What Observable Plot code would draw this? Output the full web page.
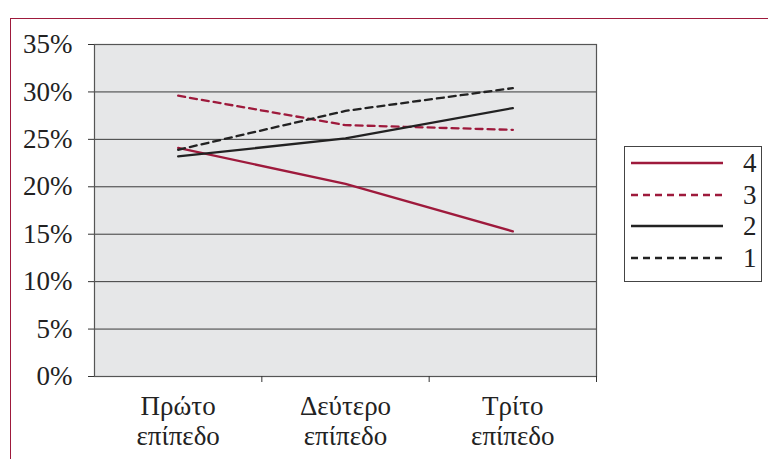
<!DOCTYPE html>
<html>
<head>
<meta charset="utf-8">
<script src="https://cdn.jsdelivr.net/npm/d3@7"></script>
<script src="https://cdn.jsdelivr.net/npm/@observablehq/plot@0.6"></script>
<style>
  body { margin: 0; background: #fff; }
  #wrap { position: relative; width: 768px; height: 459px; overflow: hidden; font-family: "Liberation Serif", serif; }
  #border { position: absolute; left: 10px; top: 18px; width: 780px; height: 480px; border: 1.5px solid #9e1a3c; box-sizing: border-box; pointer-events: none; }
  #legend { position: absolute; left: 624px; top: 146px; width: 138px; height: 136px; border: 1px solid #444; box-sizing: border-box; background: #fff; }
  .row { position: absolute; left: 6px; height: 30px; width: 130px; }
  .row svg { position: absolute; left: 0; top: 0; }
  .row span { position: absolute; left: 112px; top: 0; font-size: 27px; line-height: 30px; color: #222; }
</style>
</head>
<body>
<div id="wrap">
  <div id="chart"></div>
  <div id="border"></div>
  <div id="legend"></div>
</div>
<script>
const categories = ["Πρώτο\nεπίπεδο", "Δεύτερο\nεπίπεδο", "Τρίτο\nεπίπεδο"];
const seriesNames = ["4", "3", "2", "1"];
const s4 = [24.1, 20.3, 15.3];
const s3 = [29.6, 26.5, 26.0];
const s2 = [23.2, 25.1, 28.3];
const s1 = [23.9, 28.0, 30.4];
const yTicks = [0, 5, 10, 15, 20, 25, 30, 35];

const seriesValues = {"4": s4, "3": s3, "2": s2, "1": s1};
const seriesStyle = {
  "4": {stroke: "#9e1a3c", dash: null},
  "3": {stroke: "#9e1a3c", dash: "7,5"},
  "2": {stroke: "#222222", dash: null},
  "1": {stroke: "#222222", dash: "7,5"}
};

const font = "Liberation Serif";
const marks = [
  Plot.frame({fill: "#e6e7e8"}),
  Plot.gridY(yTicks, {stroke: "#3a3a3a", strokeOpacity: 1, strokeWidth: 1}),
  Plot.frame({stroke: "#555", strokeWidth: 1.2}),
  Plot.axisY({ticks: yTicks, tickFormat: d => d + "%", tickSize: 6, tickPadding: 16, fontSize: 27, fontFamily: font, label: null, stroke: "#333", color: "#222"}),
  Plot.axisX({ticks: [0.5, 1.5, 2.5], tickFormat: () => "", tickSize: 6, label: null, stroke: "#333"}),
  Plot.axisX({ticks: [0, 1, 2], tickFormat: i => categories[i], tickSize: 0, tickPadding: 17, fontSize: 27, fontFamily: font, lineHeight: 1.12, label: null, color: "#222"})
];
for (const name of seriesNames) {
  const data = seriesValues[name].map((v, i) => ({i, v}));
  const st = seriesStyle[name];
  marks.push(Plot.line(data, {x: "i", y: "v", stroke: st.stroke, strokeWidth: 2.3, strokeDasharray: st.dash || undefined}));
}

const chart = Plot.plot({
  width: 768,
  height: 459,
  marginLeft: 94,
  marginRight: 172,
  marginTop: 44,
  marginBottom: 83,
  x: {type: "linear", domain: [-0.5, 2.5]},
  y: {domain: [0, 35]},
  style: {fontFamily: font, fontSize: "27px", color: "#222", background: "transparent"},
  marks
});
document.getElementById("chart").appendChild(chart);

const legend = document.getElementById("legend");
seriesNames.forEach((name, k) => {
  const st = seriesStyle[name];
  const row = document.createElement("div");
  row.className = "row";
  row.style.top = (1 + k * 31.5) + "px";
  row.innerHTML = `<svg width="100" height="30"><line x1="0" x2="92" y1="15" y2="15" stroke="${st.stroke}" stroke-width="2.3" ${st.dash ? `stroke-dasharray="${st.dash}"` : ""}/></svg><span>${name}</span>`;
  legend.appendChild(row);
});
</script>
</body>
</html>
